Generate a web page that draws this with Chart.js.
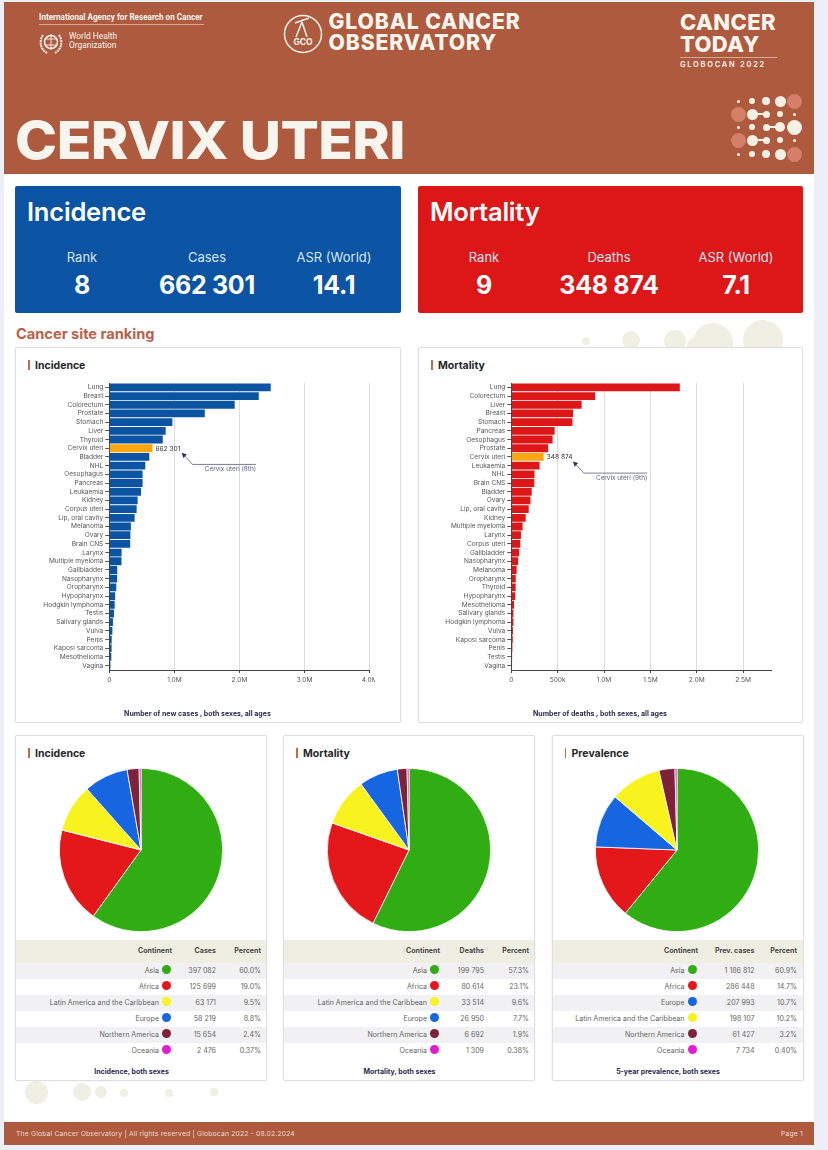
<!DOCTYPE html>
<html><head><meta charset="utf-8">
<script src="https://cdn.jsdelivr.net/npm/chart.js@4"></script>
<style>
html,body{margin:0;padding:0;background:#eef0f7;}
body{width:828px;height:1150px;position:relative;overflow:hidden;font-family:Inter,Roboto,sans-serif;}
.abs{position:absolute;}
#page{left:4px;top:2px;width:810px;height:1143px;background:#fff;}
#head{left:4px;top:2px;width:810px;height:172px;background:#ae5a3e;color:#f8f5ee;}
#foot{left:4px;top:1122px;width:810px;height:23px;background:#ae5a3e;color:#eed9cf;font-size:6.8px;line-height:23px;letter-spacing:.16px;}
.dot{position:absolute;border-radius:50%;background:#f0efe3;}
.box{position:absolute;top:186px;width:386px;height:127px;border-radius:2px;color:#fff;text-align:center;}
.box .t{position:absolute;left:12px;top:10px;font-size:25.5px;font-weight:600;letter-spacing:-.2px;}
.box .l{position:absolute;top:63px;width:110px;font-size:13px;color:#dbe5f2;}
.box .v{position:absolute;top:84px;width:140px;font-size:25px;font-weight:700;letter-spacing:-.3px;}
.card{position:absolute;background:#fff;border:1px solid #dfdfe2;border-radius:2px;box-sizing:border-box;box-shadow:0 0 2px #ececec;}
.card h3{position:absolute;left:12px;top:12px;margin:0;font-size:10.5px;font-weight:700;color:#262629;padding-left:7px;line-height:11px;}
.card h3:before{content:"";position:absolute;left:0;top:0;width:1.5px;height:10px;background:#c26a4e;}
.cap{position:absolute;text-align:center;font-weight:700;font-size:7px;color:#2b2b4f;}
canvas{position:absolute;}
.tb{position:absolute;left:0;top:204px;width:100%;font-size:7.05px;color:#666;}
.tr{position:relative;height:16.1px;line-height:16.1px;}
.tr.h{height:22.5px;line-height:21.5px;background:#efeee3;font-weight:700;color:#4a4a4a;}
.tr.g{background:#f1f1f3;}
.tr span{position:absolute;top:0;white-space:nowrap;}
.tr i{position:absolute;top:2.5px;width:9px;height:9px;border-radius:50%;}
</style></head><body>
<div class="abs" id="page"></div>
<div id="deco"></div>
<div class="abs" id="head">
  <div class="abs" style="left:35px;top:10px;font:700 8.15px 'Liberation Sans Narrow','Roboto',sans-serif;border-bottom:1px solid #d9a793;padding-bottom:2px;width:165px;white-space:nowrap;">International Agency for Research on Cancer</div>
  <svg class="abs" style="left:34px;top:27px" width="26" height="27"><circle cx="13" cy="13" r="6.5" fill="none" stroke="#f8f5ee" stroke-width="1.5"/><path d="M13 5v16M7 10h12M7 16h12" stroke="#f8f5ee" stroke-width=".9"/><path d="M5 6C1 12 2 20 9 24M21 6c4 6 3 14-4 18" fill="none" stroke="#f8f5ee" stroke-width="2" stroke-dasharray="2 .7"/></svg>
  <div class="abs" style="left:65px;top:30px;font:400 8.4px/9.2px 'Liberation Sans Narrow',Roboto,sans-serif;">World Health<br>Organization</div>
  <svg class="abs" style="left:279px;top:11px" width="40" height="42"><circle cx="20" cy="21" r="18.5" fill="none" stroke="#f8f5ee" stroke-width="1.5"/><path d="M12 10l14-5M19 9l-6 15M19 9l5 15" stroke="#f8f5ee" stroke-width="1.5" fill="none"/><text x="20" y="32" text-anchor="middle" font-size="8.5" font-weight="700" fill="#f8f5ee" font-family="Inter">GCO</text></svg>
  <div class="abs" style="left:324.5px;top:9px;font:800 21.2px/21px 'Inter';letter-spacing:.85px;white-space:nowrap;">GLOBAL CANCER<br>OBSERVATORY</div>
  <div class="abs" style="left:676px;top:9px;font:800 22px/22px 'Inter';letter-spacing:.35px;">CANCER<br>TODAY</div>
  <div class="abs" style="left:676px;top:55px;width:97px;border-top:1px solid #d9a793;font:600 7.4px/12px 'Inter';letter-spacing:1.8px;white-space:nowrap;padding-top:1px;">GLOBOCAN 2022</div>
  <div class="abs" style="left:11px;top:108px;font:800 52.5px/60px 'Inter';letter-spacing:-.5px;white-space:nowrap;transform:scaleX(1.08);transform-origin:0 50%;">CERVIX UTERI</div>
  <div id="mark"></div>
</div>
<div class="box" style="left:15px;background:#0a54a3;"><div class="t">Incidence</div>
  <div class="l" style="left:12px">Rank</div><div class="l" style="left:137px">Cases</div><div class="l" style="left:264px">ASR (World)</div>
  <div class="v" style="left:-3px">8</div><div class="v" style="left:122px">662 301</div><div class="v" style="left:249px">14.1</div></div>
<div class="box" style="left:418px;width:385px;background:#dd1717;"><div class="t">Mortality</div>
  <div class="l" style="left:11px">Rank</div><div class="l" style="left:136px">Deaths</div><div class="l" style="left:263px">ASR (World)</div>
  <div class="v" style="left:-4px">9</div><div class="v" style="left:121px">348 874</div><div class="v" style="left:248px">7.1</div></div>
<div class="abs" style="left:16px;top:325px;font:700 14.6px/18px Inter;color:#b9614a;">Cancer site ranking</div>
<div class="card" style="left:15px;top:347px;width:386px;height:376px;"><h3>Incidence</h3></div>
<div class="card" style="left:418px;top:347px;width:385px;height:376px;"><h3>Mortality</h3></div>
<canvas id="barA" class="abs" style="left:15px;top:347px;width:360px;height:376px" width="360" height="376"></canvas>
<canvas id="barB" class="abs" style="left:418px;top:347px;width:385px;height:376px" width="385" height="376"></canvas>
<div class="cap" style="left:15px;top:709px;width:365px;">Number of new cases , both sexes, all ages</div>
<div class="cap" style="left:418px;top:709px;width:364px;">Number of deaths , both sexes, all ages</div>
<div id="cards"></div>
<div class="abs" id="foot"><span class="abs" style="left:12px;white-space:nowrap;">The Global Cancer Observatory | All rights reserved | Globocan 2022 - 08.02.2024</span><span class="abs" style="right:11px;">Page 1</span></div>
<script>
// ---- ranking charts ----
const incidenceSites = ["Lung","Breast","Colorectum","Prostate","Stomach","Liver","Thyroid","Cervix uteri","Bladder","NHL","Oesophagus","Pancreas","Leukaemia","Kidney","Corpus uteri","Lip, oral cavity","Melanoma","Ovary","Brain CNS","Larynx","Multiple myeloma","Gallbladder","Nasopharynx","Oropharynx","Hypopharynx","Hodgkin lymphoma","Testis","Salivary glands","Vulva","Penis","Kaposi sarcoma","Mesothelioma","Vagina"];
const incidenceCases = [2480000,2296000,1926000,1467000,969000,866000,821000,662301,614000,553000,511000,511000,487000,435000,420000,389000,332000,324000,321000,189000,187000,122000,120000,107000,90000,83000,72000,56000,47000,37000,35000,31000,18000];
const mortalitySites = ["Lung","Colorectum","Liver","Breast","Stomach","Pancreas","Oesophagus","Prostate","Cervix uteri","Leukaemia","NHL","Brain CNS","Bladder","Ovary","Lip, oral cavity","Kidney","Multiple myeloma","Larynx","Corpus uteri","Gallbladder","Nasopharynx","Melanoma","Oropharynx","Thyroid","Hypopharynx","Mesothelioma","Salivary glands","Hodgkin lymphoma","Vulva","Kaposi sarcoma","Penis","Testis","Vagina"];
const mortalityDeaths = [1817000,904000,758000,666000,659000,467000,445000,397000,348874,305000,250000,248000,220000,207000,188000,155000,122000,104000,97000,85000,73000,58000,48000,47000,42000,30000,23000,23000,18000,16000,12000,9000,8000];
const highlightSite = "Cervix uteri";
const incidenceTicks = [0,1000000,2000000,3000000,4000000];
const mortalityTicks = [0,500000,1000000,1500000,2000000,2500000];
const incidenceNote = "Cervix uteri (8th)";
const mortalityNote = "Cervix uteri (9th)";
// ---- continent tables ----
const incContinents = ["Asia","Africa","Latin America and the Caribbean","Europe","Northern America","Oceania"];
const incCases = [397082,125699,63171,58219,15654,2476];
const incPercent = ["60.0%","19.0%","9.5%","8.8%","2.4%","0.37%"];
const morContinents = ["Asia","Africa","Latin America and the Caribbean","Europe","Northern America","Oceania"];
const morDeaths = [199795,80614,33514,26950,6692,1309];
const morPercent = ["57.3%","23.1%","9.6%","7.7%","1.9%","0.38%"];
const preContinents = ["Asia","Africa","Europe","Latin America and the Caribbean","Northern America","Oceania"];
const preCases = [1186812,286448,207993,198107,61427,7734];
const prePercent = ["60.9%","14.7%","10.7%","10.2%","3.2%","0.40%"];
const continentColors = {"Asia":"#2fad12","Africa":"#e4171b","Latin America and the Caribbean":"#f8f31f","Europe":"#1666e2","Northern America":"#7c2339","Oceania":"#e21bd2"};

const fmt = n => String(n).replace(/\B(?=(\d{3})+$)/g," ");
const axisFmt = v => v===0 ? "0" : v<1e6 ? (v/1000)+"k" : (v/1e6).toFixed(1)+"M";

const noteFor = {
  id:"note",
  afterDatasetsDraw(c){
    const o=c.options.plugins.note, x=c.scales.x, y=c.scales.y;
    const i=c.data.labels.indexOf(highlightSite), val=c.data.datasets[0].data[i];
    const bx=x.getPixelForValue(val), by=y.getPixelForValue(i), g=c.ctx;
    g.save();
    g.font="6.6px Inter"; g.fillStyle="#333"; g.textBaseline="middle"; g.textAlign="left";
    g.fillText(fmt(val),bx+3,by+.5);
    const hx=bx+29.3,hy=by+4.6,ex=hx+10.8,ey=by+16.2,fx=hx+74.3;
    g.strokeStyle="#6f6f8e"; g.lineWidth=.9;
    g.beginPath(); g.moveTo(hx+2,hy+2); g.lineTo(ex,ey); g.lineTo(fx,ey); g.stroke();
    g.fillStyle="#33335a"; g.beginPath(); g.moveTo(hx,hy); g.lineTo(hx+5.2,hy+1.6); g.lineTo(hx+1.6,hy+5.2); g.closePath(); g.fill();
    g.font="6.4px Inter"; g.fillStyle="#5f5f85"; g.textAlign="right"; g.textBaseline="top";
    g.fillText(o.text,fx,ey+1.3);
    g.restore();
  }
};
function bar(id,labels,data,color,ticks,max,note,yWidth,padRight){
  new Chart(document.getElementById(id),{
    type:"bar",
    data:{labels,datasets:[{data,backgroundColor:labels.map(l=>l===highlightSite?"#fca70f":color),barPercentage:.9,categoryPercentage:1}]},
    plugins:[noteFor],
    options:{indexAxis:"y",responsive:false,animation:false,
      layout:{padding:{left:0,right:padRight,top:36,bottom:33}},
      plugins:{legend:{display:false},tooltip:{enabled:false},note:{text:note}},
      scales:{
        x:{min:0,max,position:"bottom",
          afterBuildTicks(s){s.ticks=ticks.map(v=>({value:v}));},
          afterFit(s){s.height=20;s.paddingLeft=0;s.paddingRight=0;},
          grid:{color:"#dcdce0",lineWidth:1,tickColor:"#444",tickLength:3},
          border:{color:"#444",width:1},
          ticks:{callback:axisFmt,maxRotation:0,autoSkip:false,font:{family:"Inter",size:6.6},color:"#555",padding:3}},
        y:{afterFit(s){s.width=yWidth;s.paddingTop=0;s.paddingBottom=0;},
          grid:{drawOnChartArea:false,offset:false,tickColor:"#555",tickLength:4},
          border:{color:"#444",width:1},
          ticks:{autoSkip:false,font:{family:"Inter",size:6.55},color:"#555",padding:2}}
      }}
  });
}
bar("barA",incidenceSites,incidenceCases,"#0a54a3",incidenceTicks,4000000,incidenceNote,94.3,5.3);
bar("barB",mortalitySites,mortalityDeaths,"#dd1717",mortalityTicks,2800000,mortalityNote,93.3,32);

function pieCard(left,title,col,names,vals,pcts,cap,pieId,off,pieLeft){
  const rows=names.map((n,i)=>`<div class="tr ${i%2?'':'g'}"><span style="right:${off.name}px">${n}</span><i style="right:${off.dot}px;background:${continentColors[n]}"></i><span style="right:${off.val}px">${fmt(vals[i])}</span><span style="right:${off.pct}px">${pcts[i]}</span></div>`).join("");
  const d=document.createElement("div");
  d.className="card"; d.style.cssText=`left:${left}px;top:735px;width:252px;height:346px;`;
  d.innerHTML=`<h3>${title}</h3><canvas id="${pieId}" width="200" height="180" style="left:${pieLeft}px;top:24px;width:200px;height:180px"></canvas>
  <div class="tb"><div class="tr h"><span style="right:${off.head}px">Continent</span><span style="right:${off.val}px">${col}</span><span style="right:${off.pct}px">Percent</span></div>${rows}</div>
  <div class="cap" style="left:0;top:331px;width:231px;">${cap}</div>`;
  document.getElementById("cards").appendChild(d);
  new Chart(document.getElementById(pieId),{type:"pie",
    data:{labels:names,datasets:[{data:vals,backgroundColor:names.map(n=>continentColors[n]),borderColor:"#fff",borderWidth:.8}]},
    options:{responsive:false,animation:false,layout:{padding:{top:8,bottom:8,left:0,right:0}},plugins:{legend:{display:false},tooltip:{enabled:false}}}});
}
const offA={head:94,name:107,dot:95.5,val:50,pct:5};
const offC={head:104.5,name:118,dot:105.5,val:48,pct:5.5};
pieCard(15,"Incidence","Cases",incContinents,incCases,incPercent,"Incidence, both sexes","p1",offA,25);
pieCard(283,"Mortality","Deaths",morContinents,morDeaths,morPercent,"Mortality, both sexes","p2",offA,25);
pieCard(551.5,"Prevalence","Prev. cases",preContinents,preCases,prePercent,"5-year prevalence, both sexes","p3",offC,24.5);

// decorative dots
const deco=[[586,341,3.8],[631,340,9.3],[675,341,11],[694,345,7],[713,343,20],[763,340,20],[36.5,1092,11.5],[82,1092,9],[100.5,1092,6],[124,1093,3.8],[169,1093,3.8],[214,1092,3.8]];
const de=document.getElementById("deco");
deco.forEach(([x,y,r])=>{const s=document.createElement("div");s.className="dot";s.style.cssText=`left:${x-r}px;top:${y-r}px;width:${2*r}px;height:${2*r}px`;de.appendChild(s);});
const markLight=[[738,101,1.5],[752,101,3],[766,101,4],[780,101,5.5],[752,114,5.5],[766,114,3.5],[780,114,3],[794,114,1.5],[738,127,1.5],[752,127,3],[766,127,3.5],[780,127,5],[794,127,7.5],[752,140,5.5],[766,140,3.5],[780,140,3],[794,140,1.5],[738,154,1.5],[752,154,3],[766,154,4],[780,154,5.5]];
const markDark=[[794,101,7.5],[738,114,7.5],[738,140,7.5],[794,154,7.5]];
const markNecks=[[752,114,14,2.5],[752,140,14,2.5],[766,127,14,2]];
const m=document.getElementById("mark");
markDark.forEach(([x,y,r])=>{const s=document.createElement("div");s.className="dot";s.style.cssText=`left:${x-4-r}px;top:${y-2-r}px;width:${2*r}px;height:${2*r}px;background:#d57f68`;m.appendChild(s);});
markLight.forEach(([x,y,r])=>{const s=document.createElement("div");s.className="dot";s.style.cssText=`left:${x-4-r}px;top:${y-2-r}px;width:${2*r}px;height:${2*r}px;background:#f3f0e4`;m.appendChild(s);});
markNecks.forEach(([x,y,w,h])=>{const s=document.createElement("div");s.className="abs";s.style.cssText=`left:${x-4}px;top:${y-2-h/2}px;width:${w}px;height:${h}px;background:#f3f0e4`;m.appendChild(s);});
</script>
</body></html>
